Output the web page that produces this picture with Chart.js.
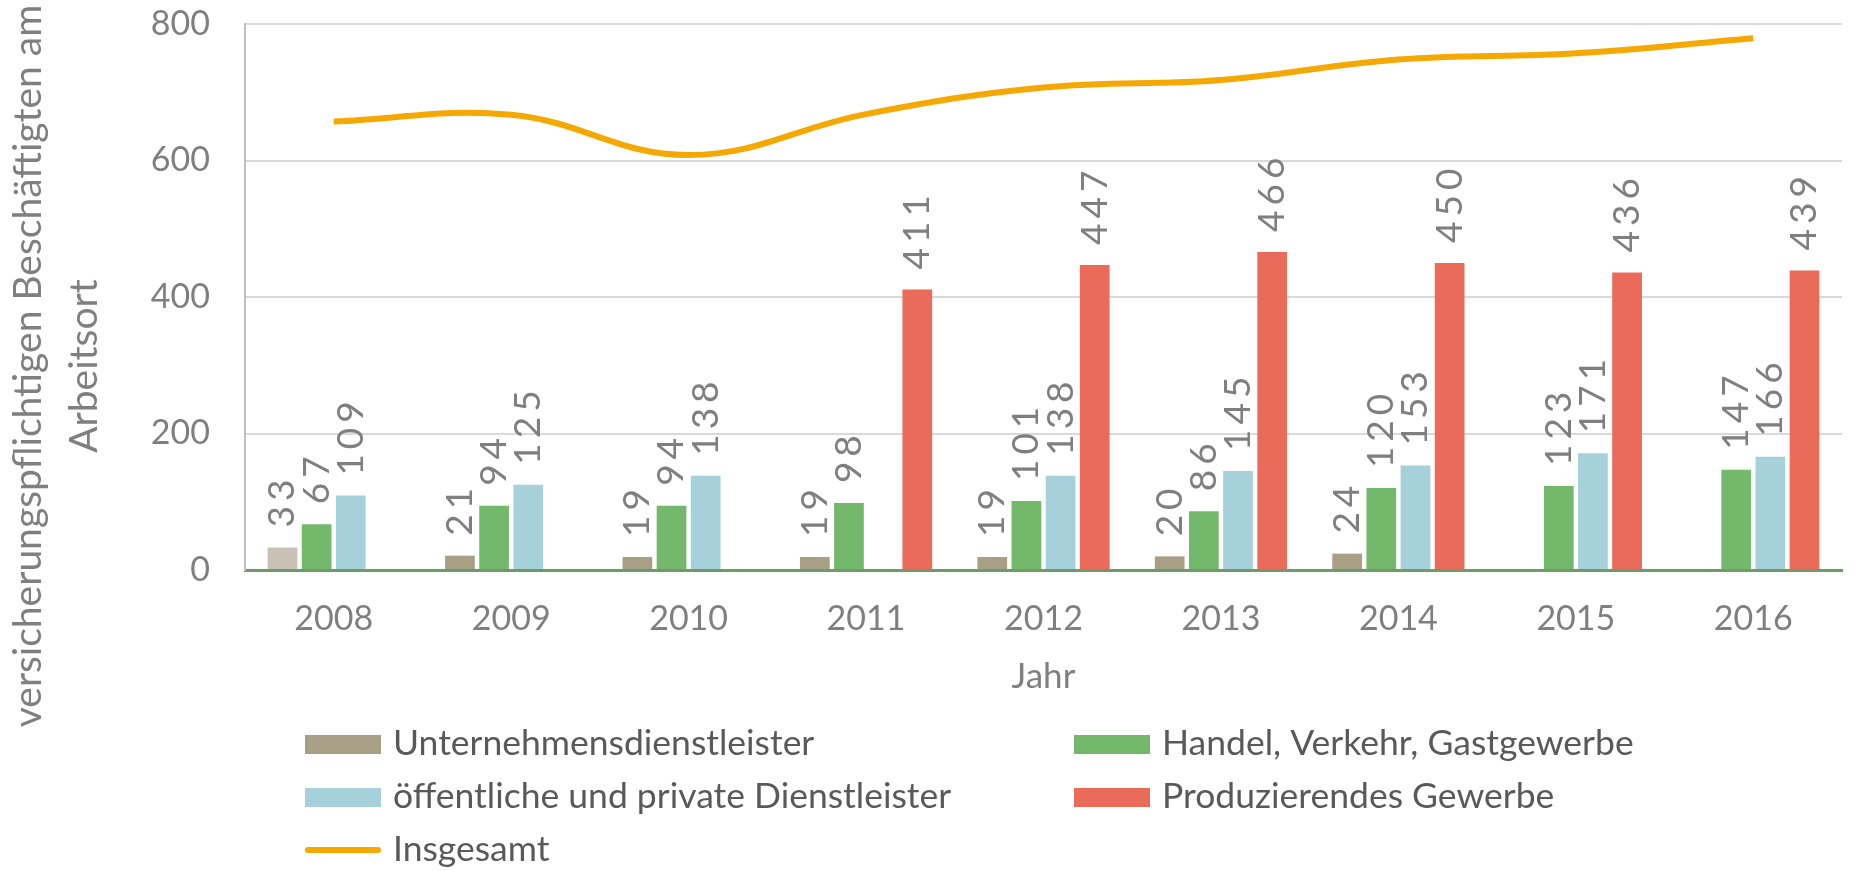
<!DOCTYPE html>
<html>
<head>
<meta charset="utf-8">
<script src="https://cdn.jsdelivr.net/npm/chart.js@4.4.1/dist/chart.umd.min.js"></script>
<style>
  html, body { margin: 0; padding: 0; background: #fff; }
  #wrap { width: 1857px; height: 871px; }
</style>
</head>
<body>
<div id="wrap"><canvas id="chart" width="1857" height="871"></canvas></div>
<script>
// data
const years = ['2008', '2009', '2010', '2011', '2012', '2013', '2014', '2015', '2016'];
const unternehmen = [33, 21, 19, 19, 19, 20, 24, null, null];
const handel = [67, 94, 94, 98, 101, 86, 120, 123, 147];
const oeffentlich = [109, 125, 138, null, 138, 145, 153, 171, 166];
const produzierend = [null, null, null, 411, 447, 466, 450, 436, 439];
const insgesamt = [657, 667, 608, 668, 707, 718, 748, 757, 779];

const yTitle = ['versicherungspflichtigen Beschäftigten am', 'Arbeitsort'];
const xTitle = 'Jahr';

const FONT = 'Lato, "Noto Sans", sans-serif';
const GRAY = '#7f7f7f';

// per-bar colour: the 2008 bar of the first series is lighter
const unternehmenColors = years.map((y, i) => i === 0 ? '#c9c1b3' : '#a89f87');

// rotated value labels above the bars
const barLabels = {
  id: 'barLabels',
  afterDatasetsDraw(chart) {
    const ctx = chart.ctx;
    ctx.save();
    ctx.font = '37px ' + FONT;
    ctx.letterSpacing = '5px';
    ctx.fillStyle = GRAY;
    ctx.textAlign = 'left';
    ctx.textBaseline = 'middle';
    chart.data.datasets.forEach((ds, i) => {
      if (ds.type === 'line') return;
      chart.getDatasetMeta(i).data.forEach((bar, j) => {
        const v = ds.data[j];
        if (v == null) return;
        ctx.save();
        ctx.translate(bar.x, bar.y - 20);
        ctx.rotate(-Math.PI / 2);
        ctx.fillText(String(v), 0, 0);
        ctx.restore();
      });
    });
    ctx.restore();
  }
};

// y axis title, centred a bit lower than the plot like the original
const yTitlePlugin = {
  id: 'yTitlePlugin',
  afterDraw(chart) {
    const ctx = chart.ctx;
    ctx.save();
    ctx.font = '39px ' + FONT;
    ctx.fillStyle = GRAY;
    ctx.textAlign = 'center';
    ctx.textBaseline = 'middle';
    yTitle.forEach((line, k) => {
      ctx.save();
      ctx.translate(28 + k * 56, 366);
      ctx.rotate(-Math.PI / 2);
      ctx.fillText(line, 0, 0);
      ctx.restore();
    });
    ctx.restore();
  }
};

// two-column legend at the bottom
const legendPlugin = {
  id: 'legendPlugin',
  afterDraw(chart) {
    const ctx = chart.ctx;
    const cols = [305, 1074];
    const rows = [744, 797, 850];
    ctx.save();
    ctx.font = '35.5px ' + FONT;
    ctx.textBaseline = 'middle';
    ctx.textAlign = 'left';
    chart.data.datasets.forEach((ds, i) => {
      const x = cols[i % 2];
      const y = rows[Math.floor(i / 2)];
      if (ds.type === 'line') {
        ctx.strokeStyle = ds.borderColor;
        ctx.lineWidth = 6;
        ctx.lineCap = 'round';
        ctx.beginPath();
        ctx.moveTo(x + 3, y);
        ctx.lineTo(x + 73, y);
        ctx.stroke();
      } else {
        ctx.fillStyle = ds.legendColor;
        ctx.fillRect(x, y - 9, 76, 19);
      }
      ctx.fillStyle = '#595959';
      ctx.fillText(ds.label, x + 88, y);
    });
    ctx.restore();
  }
};

new Chart(document.getElementById('chart'), {
  data: {
    labels: years,
    datasets: [
      { type: 'bar', label: 'Unternehmensdienstleister', data: unternehmen,
        backgroundColor: unternehmenColors, legendColor: '#a89f87', order: 1 },
      { type: 'bar', label: 'Handel, Verkehr, Gastgewerbe', data: handel,
        backgroundColor: '#74b86b', legendColor: '#74b86b', order: 1 },
      { type: 'bar', label: 'öffentliche und private Dienstleister', data: oeffentlich,
        backgroundColor: '#a7d1da', legendColor: '#a7d1da', order: 1 },
      { type: 'bar', label: 'Produzierendes Gewerbe', data: produzierend,
        backgroundColor: '#ea6b5a', legendColor: '#ea6b5a', order: 1 },
      { type: 'line', label: 'Insgesamt', data: insgesamt,
        borderColor: '#f5a800', borderWidth: 6, pointRadius: 0, tension: 0.4,
        fill: false, order: 0 }
    ]
  },
  options: {
    responsive: false,
    devicePixelRatio: 1,
    animation: false,
    layout: { padding: { left: 0, right: 15, top: 24, bottom: 171 } },
    datasets: { bar: { categoryPercentage: 0.77, barPercentage: 0.87 } },
    plugins: { legend: { display: false }, tooltip: { enabled: false } },
    scales: {
      x: {
        grid: { display: false, drawTicks: false },
        border: { color: '#6f9a6a', width: 3 },
        ticks: { color: GRAY, font: { family: FONT, size: 34 }, padding: 29 },
        title: { display: true, text: xTitle, color: GRAY,
                 font: { family: FONT, size: 35 }, padding: { top: 0, bottom: 2 } },
        afterFit(scale) { scale.height = 130; }
      },
      y: {
        min: 0, max: 800,
        ticks: { stepSize: 200, color: GRAY, font: { family: FONT, size: 34 }, padding: 35 },
        grid: { color: '#d9d9d9', lineWidth: 2, drawTicks: false },
        border: { color: '#bfbfbf', width: 2 },
        afterFit(scale) {
          scale.width = 245;
          scale.paddingTop = 0;
          scale.paddingBottom = 0;
        }
      }
    }
  },
  plugins: [barLabels, yTitlePlugin, legendPlugin]
});
</script>
</body>
</html>
